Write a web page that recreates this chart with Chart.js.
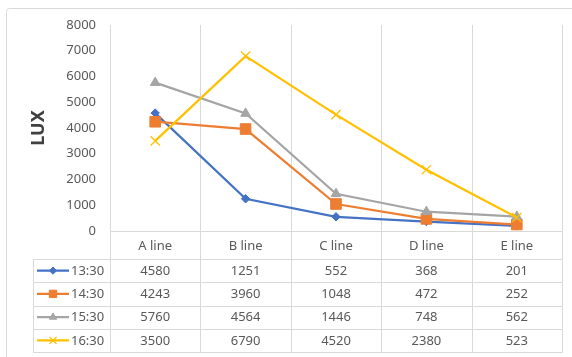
<!DOCTYPE html>
<html>
<head>
<meta charset="utf-8">
<script src="https://cdn.jsdelivr.net/npm/chart.js@4/dist/chart.umd.min.js"></script>
<style>
  html, body { margin: 0; padding: 0; background: #ffffff; }
  #wrap { width: 572px; height: 357px; }
</style>
</head>
<body>
<div id="wrap"><canvas id="c" width="572" height="357"></canvas></div>
<script>
// Illuminance per measuring line at four times of day
const categories = ['A line', 'B line', 'C line', 'D line', 'E line'];
const seriesNames = ['13:30', '14:30', '15:30', '16:30'];
const lux1330 = [4580, 1251, 552, 368, 201];
const lux1430 = [4243, 3960, 1048, 472, 252];
const lux1530 = [5760, 4564, 1446, 748, 562];
const lux1630 = [3500, 6790, 4520, 2380, 523];
const yTickValues = [0, 1000, 2000, 3000, 4000, 5000, 6000, 7000, 8000];

const seriesValues = [lux1330, lux1430, lux1530, lux1630];
const seriesColors = ['#4472C4', '#ED7D31', '#A5A5A5', '#FFC000'];
const seriesPoints = [
  { style: 'rectRot', radius: 4.2, legendRadius: 3.6, border: 1 },
  { style: 'rect', radius: 7.5, legendRadius: 5.2, border: 1 },
  { style: 'triangle', radius: 5.6, legendRadius: 4.2, border: 1 },
  { style: 'crossRot', radius: 6.5, legendRadius: 5, border: 1.3 }
];

const FONT = '"Noto Sans", "Open Sans", sans-serif';
const TEXT = '#595959';
const RULE = '#d9d9d9';

// Data table under the plot: header row holds the category ticks, then one row per series
const HEADER_H = 28;
const ROW_H = 23.25;
const LEGEND_LEFT = 33;

const frame = {
  id: 'frame',
  beforeDraw(chart) {
    const ctx = chart.ctx;
    ctx.save();
    ctx.fillStyle = '#ffffff';
    ctx.fillRect(0, 0, chart.width, chart.height);
    ctx.strokeStyle = RULE;
    ctx.lineWidth = 1;
    ctx.beginPath();
    ctx.moveTo(6.5, chart.height + 2);
    ctx.lineTo(6.5, 11.5);
    ctx.arcTo(6.5, 8.5, 9.5, 8.5, 3);
    ctx.lineTo(chart.width + 2, 8.5);
    ctx.stroke();
    ctx.restore();
  }
};

const dataTable = {
  id: 'dataTable',
  beforeDatasetsDraw(chart) {
    const ctx = chart.ctx;
    const xs = chart.scales.x;
    const area = chart.chartArea;
    const n = categories.length;
    const half = (xs.getPixelForValue(1) - xs.getPixelForValue(0)) / 2;
    const bounds = [];
    for (let i = 0; i < n; i++) bounds.push(xs.getPixelForValue(i) - half);
    bounds.push(xs.getPixelForValue(n - 1) + half);
    const headerBottom = area.bottom + HEADER_H;
    const tableBottom = headerBottom + seriesNames.length * ROW_H;
    const crisp = v => Math.round(v) + 0.5;

    ctx.save();
    ctx.strokeStyle = RULE;
    ctx.lineWidth = 1;
    ctx.beginPath();
    bounds.forEach(b => {
      ctx.moveTo(crisp(b), area.top);
      ctx.lineTo(crisp(b), crisp(tableBottom));
    });
    ctx.moveTo(crisp(bounds[0]), crisp(area.bottom));
    ctx.lineTo(crisp(bounds[n]), crisp(area.bottom));
    for (let r = 0; r <= seriesNames.length; r++) {
      const y = crisp(headerBottom + r * ROW_H);
      ctx.moveTo(LEGEND_LEFT + 0.5, y);
      ctx.lineTo(crisp(bounds[n]), y);
    }
    ctx.moveTo(LEGEND_LEFT + 0.5, crisp(headerBottom));
    ctx.lineTo(LEGEND_LEFT + 0.5, crisp(tableBottom));
    ctx.stroke();
    ctx.restore();
  },
  afterDraw(chart) {
    const ctx = chart.ctx;
    const xs = chart.scales.x;
    const area = chart.chartArea;
    const headerBottom = area.bottom + HEADER_H;
    ctx.save();
    ctx.font = '13px ' + FONT;
    ctx.fillStyle = TEXT;
    ctx.textBaseline = 'middle';
    chart.data.datasets.forEach((ds, r) => {
      const yc = headerBottom + (r + 0.5) * ROW_H;
      // value cells
      ctx.textAlign = 'center';
      ctx.fillStyle = TEXT;
      ds.data.forEach((v, i) => {
        ctx.fillText(String(v), xs.getPixelForValue(i), yc + 0.5);
      });
      // legend key: line + marker + series name
      const color = seriesColors[r];
      const p = seriesPoints[r];
      ctx.strokeStyle = color;
      ctx.lineWidth = 2.25;
      ctx.beginPath();
      ctx.moveTo(37, yc);
      ctx.lineTo(69, yc);
      ctx.stroke();
      ctx.fillStyle = color;
      ctx.lineWidth = p.border;
      Chart.helpers.drawPoint(ctx, {
        pointStyle: p.style, radius: p.legendRadius, rotation: 0, borderWidth: p.border
      }, 53, yc);
      ctx.fillStyle = TEXT;
      ctx.textAlign = 'left';
      ctx.fillText(ds.label, 71, yc + 0.5);
    });
    ctx.restore();
  }
};

const datasets = seriesNames.map((name, i) => ({
  label: name,
  data: seriesValues[i],
  borderColor: seriesColors[i],
  backgroundColor: seriesColors[i],
  borderWidth: 2.25,
  pointStyle: seriesPoints[i].style,
  pointRadius: seriesPoints[i].radius,
  pointBorderWidth: seriesPoints[i].border,
  pointBackgroundColor: seriesColors[i],
  pointBorderColor: seriesColors[i],
  tension: 0,
  order: seriesNames.length - 1 - i
}));

new Chart(document.getElementById('c'), {
  type: 'line',
  data: { labels: categories, datasets },
  plugins: [frame, dataTable],
  options: {
    responsive: false,
    animation: false,
    devicePixelRatio: 1,
    layout: { padding: { left: 6, right: 10, top: 25, bottom: 0 } },
    plugins: { legend: { display: false }, tooltip: { enabled: false } },
    scales: {
      x: {
        type: 'category',
        offset: true,
        grid: { display: false, drawTicks: false },
        border: { display: false },
        ticks: {
          color: TEXT,
          font: { family: FONT, size: 13 },
          padding: 7,
          maxRotation: 0,
          autoSkip: false
        },
        afterFit(scale) { scale.height = 357 - 231; }
      },
      y: {
        min: 0,
        max: 8000,
        afterBuildTicks(scale) { scale.ticks = yTickValues.map(v => ({ value: v })); },
        grid: { display: false, drawTicks: false },
        border: { display: false },
        ticks: {
          color: TEXT,
          font: { family: FONT, size: 13 },
          padding: 14,
          callback: v => String(v)
        },
        title: {
          display: true,
          text: 'LUX',
          color: '#404040',
          font: { family: FONT, size: 18, weight: 'bold' },
          padding: { top: 22, bottom: 0 }
        },
        afterFit(scale) { scale.width = 104; }
      }
    }
  }
});
</script>
</body>
</html>
